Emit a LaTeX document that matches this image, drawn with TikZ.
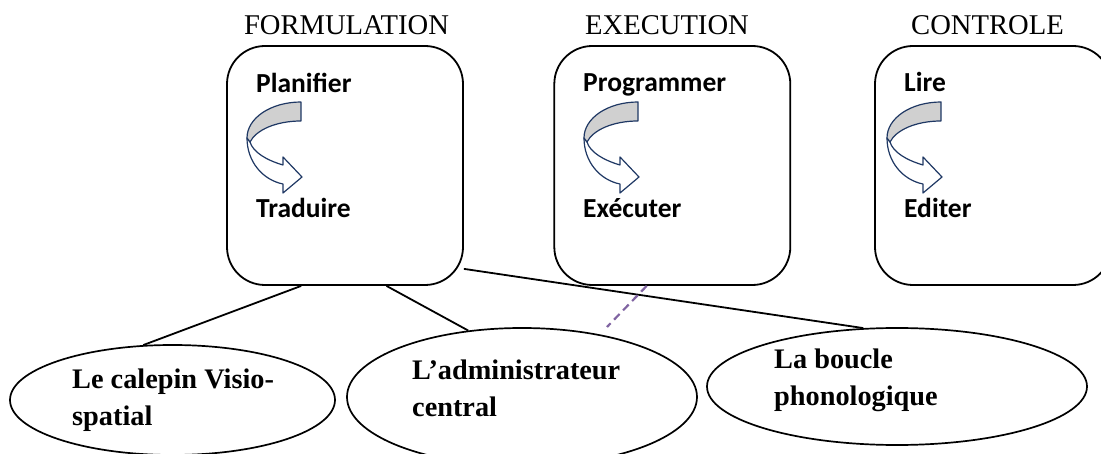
\documentclass[tikz,border=0pt]{standalone}
\usepackage{fontspec}
\setmainfont{Liberation Serif}
\newfontfamily\calib{Carlito}
\usetikzlibrary{shapes.geometric}

\definecolor{arrowblue}{HTML}{1F3864}
\definecolor{arrowgray}{HTML}{D0D0D0}
\definecolor{dashpurple}{HTML}{8064A2}

\tikzset{
	phase/.style={draw, line width=1.8pt, rounded corners=38pt, minimum width=236pt, minimum height=239pt, inner sep=0pt},
	mem/.style={draw, ellipse, line width=1.7pt, inner sep=0pt},
	title/.style={anchor=base, font=\fontsize{28.6}{34}\selectfont},
	task/.style={anchor=base west, inner sep=0pt, font=\calib\bfseries\fontsize{27.5}{32}\selectfont},
	memtext/.style={anchor=base west, align=left, inner sep=0pt, font=\bfseries\fontsize{28.3}{37}\selectfont},
	link/.style={line width=1.8pt},
	dashlink/.style={line width=2.2pt, dashpurple, dash pattern=on 8pt off 5pt},
	curvarrow/.pic={
		\filldraw[fill=white, draw=arrowblue, line width=1.2pt, line join=round]
			(-54,36) .. controls (-54,60) and (-38,78) .. (-18,82) -- (-18,91) -- (1,75) -- (-18,55) -- (-18,63)
			.. controls (-35,58) and (-48,50) .. (-51,40) -- cycle;
		\filldraw[fill=arrowgray, draw=arrowblue, line width=1.2pt, line join=round]
			(0,0) -- (0,19) .. controls (-25,19) and (-45,28) .. (-51,40) -- (-54,36)
			.. controls (-54,16) and (-30,0) .. (0,0) -- cycle;
	}
}

\begin{document}
\begin{tikzpicture}[x=1pt, y=-1pt]
	\useasboundingbox (0,0) rectangle (1101,454);

	% the three phases
	\node[title] (tform) at(346.5, 35){FORMULATION};
	\node[title] (texec) at(667, 35){EXECUTION};
	\node[title] (tctrl) at(987.5, 35){CONTROLE};

	\node[phase] (form) at(345, 165.5){};
	\node[phase] (exec) at(672.3, 165.5){};
	\node[phase] (ctrl) at(993, 165.5){};

		\node[task] (plan) at(256, 93){Planifier};
		\pic at(301, 102){curvarrow};
		\node[task] (trad) at(256, 218){Traduire};

		\node[task] (prog) at(583, 92){Programmer};
		\pic at(638, 102){curvarrow};
		\node[task] (exe) at(583, 218){Exécuter};

		\node[task] (lire) at(904, 92){Lire};
		\pic at(941, 102){curvarrow};
		\node[task] (edit) at(904, 218){Editer};

	% working memory (text anchored on its last line)
	\node[mem, minimum width=325pt, minimum height=110pt] (visuo) at(172.5, 400){};
	\node[mem, minimum width=350pt, minimum height=138pt] (admin) at(522, 397){};
	\node[mem, minimum width=380pt, minimum height=117pt] (boucle) at(897, 386.5){};

		\node[memtext] (tvisuo) at(72, 425){Le calepin Visio-\\spatial};
		\node[memtext] (tadmin) at(412, 417){L’administrateur\\central};
		\node[memtext] (tboucle) at(774, 406){La boucle\\phonologique};

	\draw[link] (form.-110.6) to (visuo.118.6);
	\draw[link] (form.-71.5) to (admin.129.6);
	\draw[link] (form.-41) to (boucle.120.5);

	\coordinate (dashend) at(607, 327);
	\draw[dashlink] (exec.-102) to (dashend);

\end{tikzpicture}
\end{document}
